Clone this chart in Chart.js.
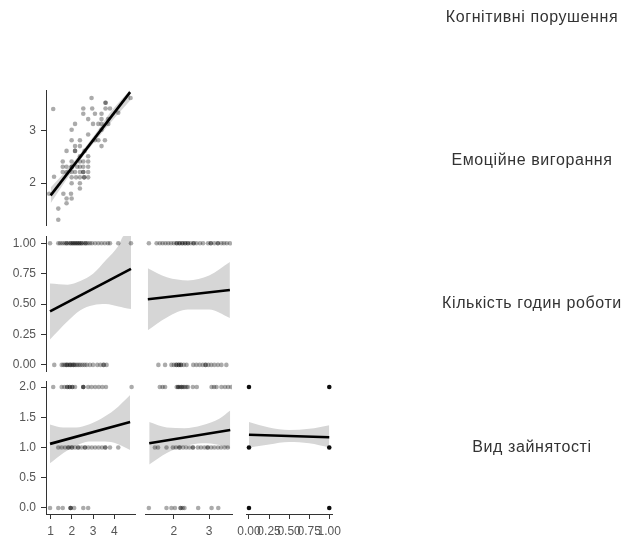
<!DOCTYPE html>
<html lang="uk">
<head>
<meta charset="utf-8">
<title>Матриця діаграм розсіювання</title>
<script src="https://cdn.jsdelivr.net/npm/chart.js@4.4.1/dist/chart.umd.min.js"></script>
<style>
    html, body { margin: 0; padding: 0; background: #fff; }
    #wrap { position: relative; width: 626px; height: 540px; }
    #matrixChart { position: absolute; left: 0; top: 0; }
    .var-label {
        position: absolute; left: 430px; width: 204px; text-align: center;
        font-family: 'Liberation Sans', Arial, sans-serif; font-size: 16px;
        letter-spacing: 0.6px; line-height: 18px; color: #333; white-space: nowrap;
    }
</style>
</head>
<body>
<div id="wrap">
    <canvas id="matrixChart" width="626" height="540"></canvas>
</div>
<script>
// Назви змінних (діагональ матриці)
const varNames = ['Когнітивні порушення', 'Емоційне вигорання', 'Кількість годин роботи', 'Вид зайнятості'];

// Поділки осей
const cogTicks = [1, 2, 3, 4];
const emoTicks = [2, 3];
const hoursTicks = [0, 0.25, 0.5, 0.75, 1];
const typeTicks = [0, 0.5, 1, 1.5, 2];

// Когнітивні порушення (x) / Емоційне вигорання (y)
const p1Cog = [1.12, 2.93, 3.59, 3.59, 4.77, 2.54, 2.96, 3.59, 3.80, 2.54, 3.09, 3.40, 4.19, 2.77, 3.40, 3.72,
    2.15, 3.00, 3.25, 3.40, 3.72, 1.99, 3.40, 2.77, 1.99, 2.38, 3.09, 3.25, 3.56, 2.15, 2.38, 3.40,
    1.75, 2.15, 2.15, 2.60, 2.38, 2.77, 1.57, 1.99, 2.38, 2.54, 2.77, 1.57, 1.75, 1.99, 1.99, 2.25,
    2.38, 2.54, 2.77, 1.57, 1.75, 1.99, 2.15, 2.38, 2.54, 2.54, 2.77, 1.99, 2.20, 2.38, 2.58, 2.58,
    2.77, 1.16, 1.99, 2.38, 2.38, 0.93, 1.60, 1.96, 1.75, 1.99, 1.75, 1.36, 1.36];
const p1Emo = [3.40, 3.61, 3.52, 3.52, 3.61, 3.41, 3.41, 3.41, 3.41, 3.31, 3.31, 3.31, 3.33, 3.21, 3.21, 3.21,
    3.12, 3.12, 3.12, 3.12, 3.12, 3.01, 3.01, 2.92, 2.81, 2.81, 2.81, 2.81, 2.81, 2.70, 2.70, 2.70,
    2.61, 2.61, 2.61, 2.61, 2.51, 2.51, 2.41, 2.41, 2.41, 2.41, 2.41, 2.31, 2.31, 2.31, 2.31, 2.31,
    2.31, 2.31, 2.31, 2.21, 2.21, 2.21, 2.21, 2.21, 2.21, 2.21, 2.21, 2.11, 2.11, 2.11, 2.11, 2.11,
    2.11, 2.12, 2.00, 2.00, 1.90, 1.80, 1.80, 1.80, 1.71, 1.71, 1.62, 1.52, 1.31];

// Кількість годин роботи (0 / 1)
const cogAtHours1 = [0.97, 1.36, 1.45, 1.55, 1.65, 1.75, 1.75, 1.85, 1.95, 1.95, 2.05, 2.05, 2.15, 2.15, 2.25, 2.25, 2.35,
    2.35, 2.45, 2.45, 2.55, 2.65, 2.65, 2.75, 2.85, 2.95, 3.1, 3.25, 3.4, 3.55, 3.7, 3.8, 4.19, 4.79];
const cogAtHours0 = [1.17, 1.52, 1.6, 1.68, 1.76, 1.76, 1.84, 1.92, 1.92, 2.0, 2.08, 2.08, 2.16, 2.24, 2.32, 2.4, 2.5,
    2.6, 2.7, 2.85, 3.0, 3.2, 3.35, 3.5, 3.5, 3.64];
const emoAtHours1 = [1.29, 1.51, 1.6, 1.68, 1.76, 1.84, 1.92, 2.0, 2.08, 2.08, 2.16, 2.16, 2.24, 2.24, 2.32, 2.32, 2.4,
    2.4, 2.48, 2.56, 2.56, 2.64, 2.74, 2.83, 2.97, 3.05, 3.05, 3.15, 3.25, 3.25, 3.35, 3.42, 3.5, 3.59];
const emoAtHours0 = [1.56, 1.75, 1.93, 2.0, 2.07, 2.07, 2.14, 2.14, 2.2, 2.2, 2.28, 2.36, 2.55, 2.64, 2.73, 2.82, 2.9,
    2.9, 2.98, 3.06, 3.15, 3.25, 3.35, 3.49];

// Вид зайнятості (0 / 1 / 2)
const cogAtType2 = [1.12, 1.52, 1.65, 1.78, 1.78, 1.9, 1.9, 2.02, 2.02, 2.15, 2.54, 2.54, 2.54, 2.77, 2.93, 3.1, 3.27,
    3.44, 3.61, 4.82];
const cogAtType1 = [1.36, 1.52, 1.68, 1.84, 1.84, 2.0, 2.0, 2.15, 2.3, 2.3, 2.46, 2.62, 2.62, 2.78, 2.94, 3.1, 3.26,
    3.42, 3.58, 3.58, 3.8, 4.19];
const cogAtType0 = [0.97, 1.36, 1.57, 1.94, 1.94, 1.94, 2.11, 2.54, 2.77];
const emoAtType2 = [1.6, 1.68, 1.75, 2.08, 2.12, 2.12, 2.17, 2.22, 2.22, 2.27, 2.31, 2.36, 2.4, 2.54, 2.65, 3.07, 3.14,
    3.21, 3.35, 3.45, 3.54, 3.63];
const emoAtType1 = [1.46, 1.55, 1.79, 1.97, 2.06, 2.16, 2.16, 2.26, 2.35, 2.44, 2.54, 2.54, 2.68, 2.77, 2.87, 2.96,
    2.96, 3.06, 3.15, 3.25, 3.34, 3.44, 3.53];
const emoAtType0 = [1.29, 1.79, 1.93, 2.03, 2.19, 2.19, 2.25, 2.3, 2.69, 3.07, 3.26];
const hoursTypeX = [0, 1, 0, 1, 0, 1];
const hoursTypeY = [2, 2, 1, 1, 0, 0];

// Лінії регресії та довірчі смуги
const fitCogEmoX = [1.0, 4.75], fitCogEmoY = [1.77, 3.72];
const bandCogEmoX = [1.0, 1.7, 2.4, 3.1, 3.8, 4.75];
const bandCogEmoLo = [1.62, 2.04, 2.44, 2.79, 3.13, 3.56];
const bandCogEmoHi = [1.92, 2.22, 2.56, 2.93, 3.33, 3.76];

const fitCogHoursX = [0.97, 4.79], fitCogHoursY = [0.44, 0.79];
const bandCogHoursX = [0.97, 1.8, 2.4, 3.0, 3.6, 4.2, 4.45, 4.79];
const bandCogHoursLo = [0.21, 0.36, 0.45, 0.49, 0.50, 0.48, 0.47, 0.46];
const bandCogHoursHi = [0.67, 0.66, 0.69, 0.75, 0.86, 0.98, 1.06, 1.06];

const fitEmoHoursX = [1.26, 3.59], fitEmoHoursY = [0.54, 0.616];
const bandEmoHoursX = [1.26, 1.8, 2.4, 3.0, 3.59];
const bandEmoHoursLo = [0.285, 0.39, 0.455, 0.455, 0.386];
const bandEmoHoursHi = [0.795, 0.72, 0.695, 0.735, 0.846];

const fitCogTypeX = [0.97, 4.75], fitCogTypeY = [1.06, 1.42];
const bandCogTypeX = [0.97, 1.6, 2.2, 2.8, 3.4, 4.0, 4.75];
const bandCogTypeLo = [0.74, 0.91, 1.03, 1.10, 1.10, 1.08, 0.96];
const bandCogTypeHi = [1.38, 1.33, 1.33, 1.38, 1.48, 1.62, 1.87];

const fitEmoTypeX = [1.3, 3.6], fitEmoTypeY = [1.07, 1.29];
const bandEmoTypeX = [1.3, 1.8, 2.3, 2.8, 3.3, 3.6];
const bandEmoTypeLo = [0.72, 0.91, 1.02, 1.07, 1.04, 0.97];
const bandEmoTypeHi = [1.42, 1.33, 1.32, 1.37, 1.48, 1.61];

const fitHoursTypeX = [0, 1], fitHoursTypeY = [1.21, 1.17];
const bandHoursTypeX = [0, 0.25, 0.5, 0.75, 1];
const bandHoursTypeLo = [1.0, 1.05, 1.09, 1.07, 1.0];
const bandHoursTypeHi = [1.42, 1.33, 1.29, 1.31, 1.37];

// ---------------------------------------------------------------

const zip = (xs, ys) => xs.map((x, i) => ({ x: x, y: ys[i] }));
const level = (xs, y) => xs.map(x => ({ x: x, y: y }));

const datasets = [];

function addPanel(xId, yId, points, fitX, fitY, bandX, bandLo, bandHi, dotColor) {
    // лінія регресії
    datasets.push({
        data: zip(fitX, fitY), xAxisID: xId, yAxisID: yId, order: 1,
        showLine: true, borderColor: '#000', borderWidth: 2.6, pointRadius: 0, borderCapStyle: 'butt'
    });
    // точки
    datasets.push({
        data: points, xAxisID: xId, yAxisID: yId, order: 2,
        showLine: false, pointRadius: 2.3, borderWidth: 0, backgroundColor: dotColor
    });
    // довірча смуга: верхня межа заливається до нижньої
    datasets.push({
        data: zip(bandX, bandHi), xAxisID: xId, yAxisID: yId, order: 3,
        showLine: true, borderWidth: 0, pointRadius: 0, cubicInterpolationMode: 'monotone',
        fill: '+1', backgroundColor: '#d6d6d6'
    });
    datasets.push({
        data: zip(bandX, bandLo), xAxisID: xId, yAxisID: yId, order: 3,
        showLine: true, borderWidth: 0, pointRadius: 0, cubicInterpolationMode: 'monotone', fill: false
    });
}

const dot = 'rgba(0, 0, 0, 0.33)';

addPanel('xCog', 'yEmo', zip(p1Cog, p1Emo),
    fitCogEmoX, fitCogEmoY, bandCogEmoX, bandCogEmoLo, bandCogEmoHi, dot);
addPanel('xCog', 'yHours', level(cogAtHours1, 1).concat(level(cogAtHours0, 0)),
    fitCogHoursX, fitCogHoursY, bandCogHoursX, bandCogHoursLo, bandCogHoursHi, dot);
addPanel('xEmo', 'yHours', level(emoAtHours1, 1).concat(level(emoAtHours0, 0)),
    fitEmoHoursX, fitEmoHoursY, bandEmoHoursX, bandEmoHoursLo, bandEmoHoursHi, dot);
addPanel('xCog', 'yType', level(cogAtType2, 2).concat(level(cogAtType1, 1), level(cogAtType0, 0)),
    fitCogTypeX, fitCogTypeY, bandCogTypeX, bandCogTypeLo, bandCogTypeHi, dot);
addPanel('xEmo', 'yType', level(emoAtType2, 2).concat(level(emoAtType1, 1), level(emoAtType0, 0)),
    fitEmoTypeX, fitEmoTypeY, bandEmoTypeX, bandEmoTypeLo, bandEmoTypeHi, dot);
addPanel('xHours', 'yType', zip(hoursTypeX, hoursTypeY),
    fitHoursTypeX, fitHoursTypeY, bandHoursTypeX, bandHoursTypeLo, bandHoursTypeHi, 'rgba(0, 0, 0, 0.95)');

// Осі: складені (stack) щоб отримати сітку панелей
const axisColor = '#333';
const tickFont = { family: "'Liberation Sans', Arial, sans-serif", size: 12 };

function valueAxis(position, stack, weight, order, min, max, ticks, digits) {
    return {
        type: 'linear', position: position, stack: stack, stackWeight: weight, weight: order,
        min: min, max: max,
        afterBuildTicks: s => { s.ticks = ticks.map(v => ({ value: v })); },
        afterFit: s => {
            if (position === 'left') s.width = 46; else s.height = 26;
        },
        grid: { drawOnChartArea: false, drawTicks: true, tickLength: 5, color: axisColor },
        border: { display: true, color: axisColor, width: 1 },
        ticks: {
            font: tickFont, color: '#555', padding: 5,
            autoSkip: false, maxRotation: 0, minRotation: 0,
            callback: v => v.toFixed(digits)
        }
    };
}

function gapAxis(position, stack, weight, order) {
    return {
        type: 'linear', position: position, stack: stack, stackWeight: weight, weight: order,
        display: false,
        afterFit: s => {
            if (position === 'left') s.width = 46; else s.height = 26;
        }
    };
}

const matrixChart = new Chart(document.getElementById('matrixChart'), {
    type: 'scatter',
    data: { datasets: datasets },
    options: {
        responsive: false,
        animation: false,
        events: [],
        layout: { padding: { top: 90, right: 294, bottom: 0, left: 0 } },
        plugins: {
            legend: { display: false },
            tooltip: { enabled: false }
        },
        scales: {
            // рядки (зверху вниз)
            yEmo: valueAxis('left', 'rows', 135, 5, 1.21, 3.76, emoTicks, 0),
            yGap1: gapAxis('left', 'rows', 11, 4),
            yHours: valueAxis('left', 'rows', 135, 3, -0.05, 1.06, hoursTicks, 2),
            yGap2: gapAxis('left', 'rows', 10, 2),
            yType: valueAxis('left', 'rows', 133, 1, -0.1, 2.1, typeTicks, 1),
            // стовпці (зліва направо)
            xCog: valueAxis('bottom', 'cols', 89, 1, 0.78, 4.98, cogTicks, 0),
            xGap1: gapAxis('bottom', 'cols', 10, 2),
            xEmo: valueAxis('bottom', 'cols', 87, 3, 1.18, 3.65, emoTicks, 0),
            xGap2: gapAxis('bottom', 'cols', 14, 4),
            xHours: valueAxis('bottom', 'cols', 86, 5, -0.037, 1.034, hoursTicks, 2)
        }
    }
});

// Підписи змінних праворуч
const labelTops = [8, 151, 294, 438];
varNames.forEach((name, i) => {
    const div = document.createElement('div');
    div.className = 'var-label';
    div.style.top = labelTops[i] + 'px';
    div.textContent = name;
    document.getElementById('wrap').appendChild(div);
});
</script>
</body>
</html>
